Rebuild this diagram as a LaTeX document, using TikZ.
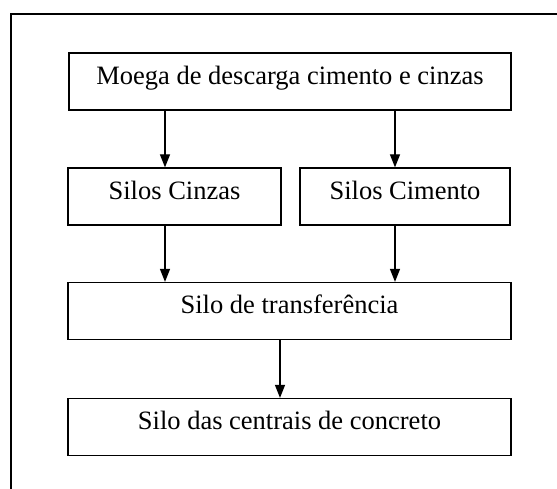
\documentclass[tikz,border=0pt]{standalone}
\usepackage{fontspec}
\setmainfont{Liberation Serif}
\usetikzlibrary{arrows.meta,positioning}

\tikzset{
  etapa/.style={rectangle, draw, line width=1.2pt, minimum height=57pt, inner sep=0pt, font=\fontsize{26.5}{30}\selectfont, text height=.7em, text depth=.13em},
  fluxo/.style={-{Triangle[length=13pt,width=10pt]}, line width=1.2pt}
}

\begin{document}
\begin{tikzpicture}[x=1pt, y=1pt]
  \useasboundingbox (0,0) rectangle (557,489);
  \draw[line width=1.2pt] (11,0) -- (11,475) -- (557,475);

  \node[etapa, minimum width=442pt] (moega) at (290,407.5) {Moega de descarga cimento e cinzas};
  \node[etapa, minimum width=213pt] (cinzas) at (174.5,292.5) {Silos Cinzas};
  \node[etapa, minimum width=210pt] (cimento) at (405,292.5) {Silos Cimento};
  \node[etapa, minimum width=443pt] (transf) at (289.5,178) {Silo de transfer\^encia};
  \node[etapa, minimum width=443pt] (centrais) at (289.5,62) {Silo das centrais de concreto};

  \coordinate (xa) at (165,0);
  \coordinate (xb) at (395,0);
  \coordinate (xc) at (280,0);

  \draw[fluxo] (moega.south -| xa) -- (cinzas.north -| xa);
  \draw[fluxo] (moega.south -| xb) -- (cimento.north -| xb);
  \draw[fluxo] (cinzas.south -| xa) -- (transf.north -| xa);
  \draw[fluxo] (cimento.south -| xb) -- (transf.north -| xb);
  \draw[fluxo] (transf.south -| xc) -- (centrais.north -| xc);
\end{tikzpicture}
\end{document}
